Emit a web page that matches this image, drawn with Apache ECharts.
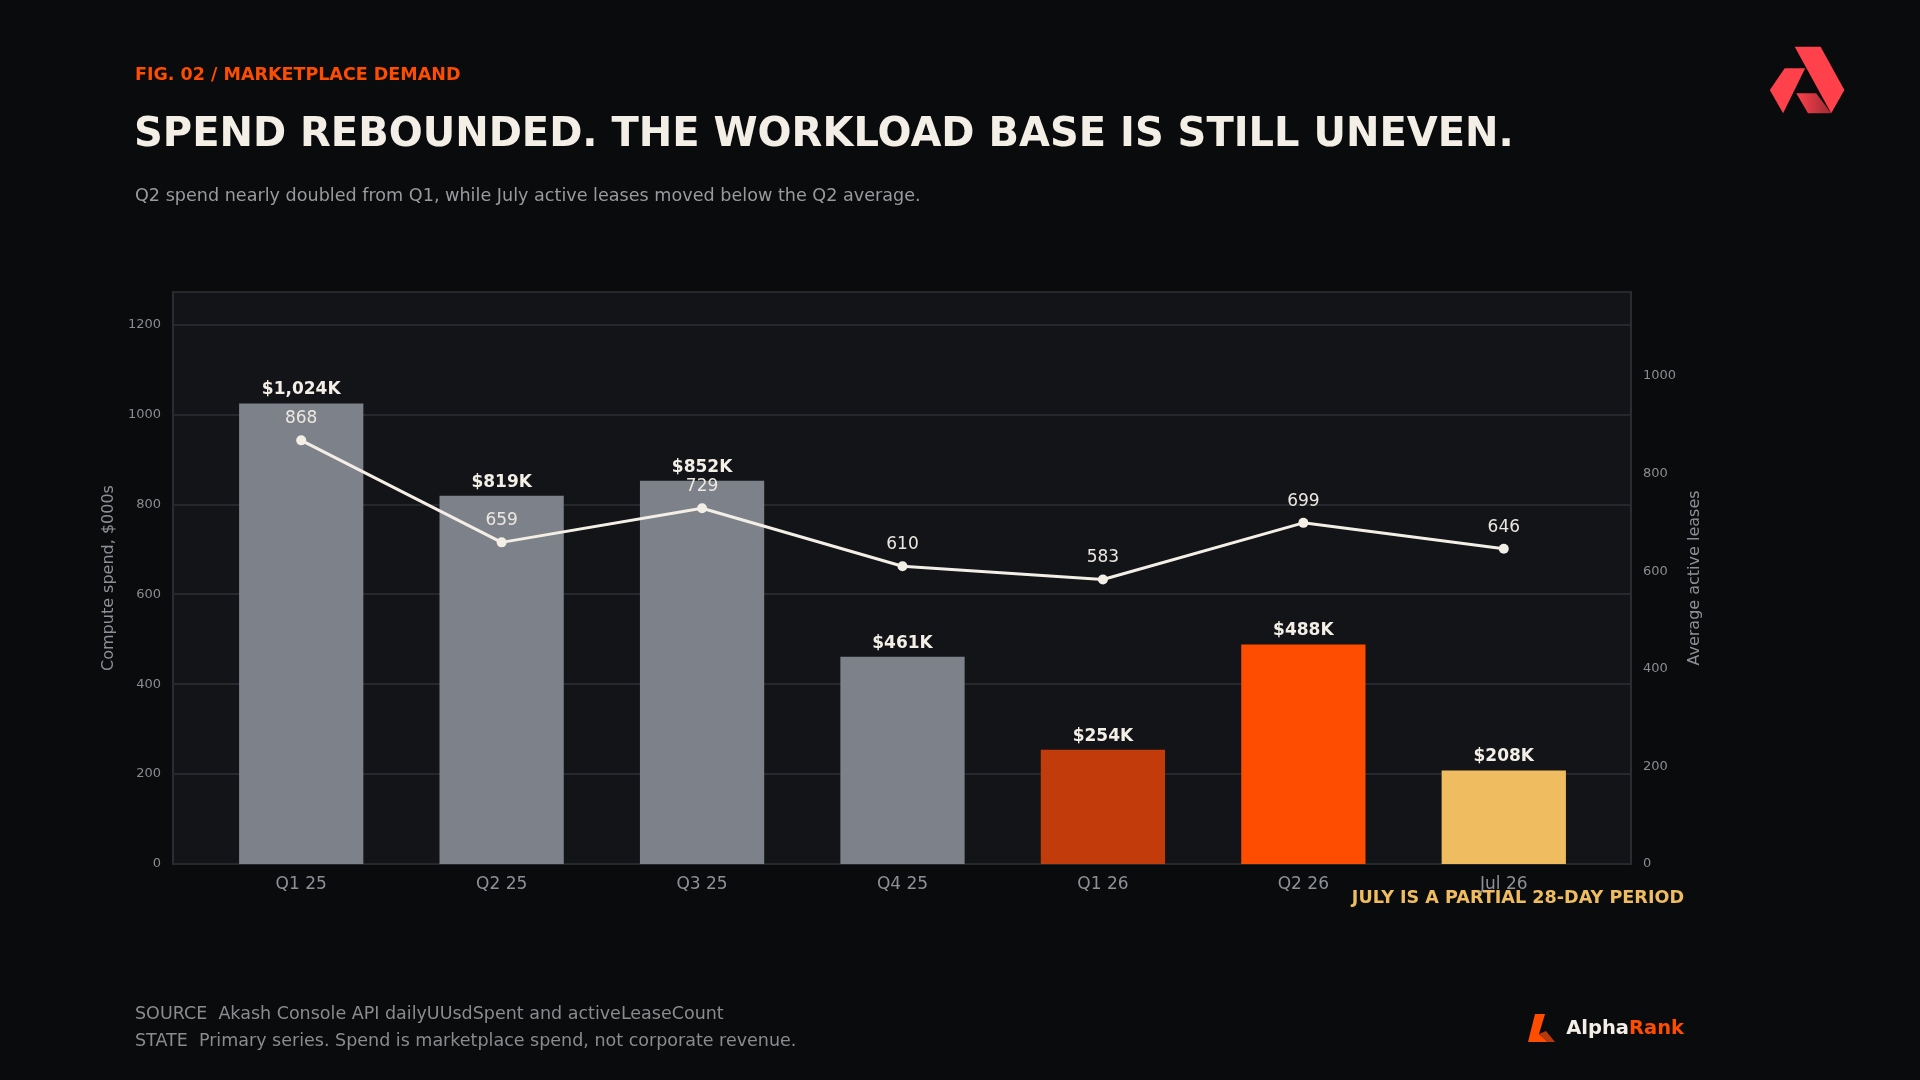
<!DOCTYPE html>
<html>
<head>
<meta charset="utf-8">
<script src="https://cdn.jsdelivr.net/npm/echarts@6/dist/echarts.min.js"></script>
<style>
  html, body {margin: 0; padding: 0; background: #0a0b0d;}
  #chart {width: 1920px; height: 1080px;}
</style>
</head>
<body>
<div id="chart"></div>
<script>
const periods = ["Q1 25", "Q2 25", "Q3 25", "Q4 25", "Q1 26", "Q2 26", "Jul 26"];
const spendK = [1024, 819, 852, 461, 254, 488, 208];
const activeLeases = [868, 659, 729, 610, 583, 699, 646];
const barColors = ["#7d8189", "#7d8189", "#7d8189", "#7d8189", "#c23b0a", "#ff4d00", "#efbd5f"];
const spendTicks = [0, 200, 400, 600, 800, 1000, 1200];
const leaseTicks = [0, 200, 400, 600, 800, 1000];

const FONT = "DejaVu Sans";
const MUTED = "#8d9096";
const SPEND_MAX = 1272;
const LEASE_MAX = 1172;

const chart = echarts.init(document.getElementById("chart"));

// grid 0 is the framed plot area, grid 1 holds the bars inset from the frame
const option = {
  animation: false,
  backgroundColor: "#0a0b0d",
  textStyle: {fontFamily: FONT},
  grid: [
    {
      left: 173, right: 289, top: 292, bottom: 216,
      show: true, backgroundColor: "#131418", borderColor: "#2a2c31", borderWidth: 2
    },
    {left: 201, right: 316, top: 292, bottom: 216}
  ],
  xAxis: [
    {
      type: "category", gridIndex: 0, data: periods, show: false
    },
    {
      type: "category",
      gridIndex: 1,
      data: periods,
      axisLine: {show: false},
      axisTick: {show: false},
      axisLabel: {color: MUTED, fontSize: 17, margin: 12, fontFamily: FONT}
    }
  ],
  yAxis: [
    {
      type: "value",
      gridIndex: 0,
      min: 0,
      max: SPEND_MAX,
      interval: 200,
      name: "Compute spend, $000s",
      nameLocation: "middle",
      nameGap: 53,
      nameTextStyle: {color: MUTED, fontSize: 16, fontFamily: FONT},
      axisLine: {show: false},
      axisTick: {show: false},
      splitLine: {lineStyle: {color: "#26282d", width: 2}},
      axisLabel: {
        color: "#8a8c91", fontSize: 13, margin: 12, fontFamily: FONT,
        formatter: v => spendTicks.includes(v) ? String(v) : ""
      }
    },
    {
      type: "value",
      gridIndex: 0,
      position: "right",
      min: 0,
      max: LEASE_MAX,
      interval: 200,
      name: "Average active leases",
      nameLocation: "middle",
      nameGap: 52,
      nameTextStyle: {color: MUTED, fontSize: 16, fontFamily: FONT},
      axisLine: {show: false},
      axisTick: {show: false},
      splitLine: {show: false},
      axisLabel: {
        color: "#8a8c91", fontSize: 13, margin: 12, fontFamily: FONT,
        formatter: v => leaseTicks.includes(v) ? String(v) : ""
      }
    },
    {type: "value", gridIndex: 1, min: 0, max: SPEND_MAX, show: false, splitLine: {show: false}},
    {type: "value", gridIndex: 1, min: 0, max: LEASE_MAX, show: false, splitLine: {show: false}}
  ],
  series: [
    {
      type: "bar",
      xAxisIndex: 1,
      yAxisIndex: 2,
      barWidth: "62%",
      data: spendK.map((v, i) => ({value: v, itemStyle: {color: barColors[i]}})),
      label: {
        show: true,
        position: "top",
        distance: 5,
        color: "#f3efe6",
        fontSize: 17,
        fontWeight: "bold",
        fontFamily: FONT,
        formatter: p => "$" + p.value.toLocaleString("en-US") + "K"
      },
      z: 2
    },
    {
      type: "line",
      xAxisIndex: 1,
      yAxisIndex: 3,
      data: activeLeases,
      symbol: "circle",
      symbolSize: 10,
      lineStyle: {color: "#f3efe6", width: 3},
      itemStyle: {color: "#f3efe6"},
      label: {
        show: true,
        position: "top",
        distance: 8,
        color: "#ece8e0",
        fontSize: 17,
        fontFamily: FONT
      },
      z: 5
    }
  ],
  graphic: [
    {
      type: "text", left: 135, top: 66,
      style: {text: "FIG. 02 / MARKETPLACE DEMAND", fill: "#ff4d00", font: "bold 17.5px 'DejaVu Sans'"}
    },
    {
      type: "text", left: 134, top: 116,
      style: {text: "SPEND REBOUNDED. THE WORKLOAD BASE IS STILL UNEVEN.", fill: "#f3efe6", font: "bold 40px 'DejaVu Sans'"}
    },
    {
      type: "text", left: 135, top: 187,
      style: {text: "Q2 spend nearly doubled from Q1, while July active leases moved below the Q2 average.", fill: "#9a9a9e", font: "17.6px 'DejaVu Sans'"}
    },
    {
      type: "text", right: 236, top: 889,
      style: {text: "JULY IS A PARTIAL 28-DAY PERIOD", fill: "#efbd5f", font: "bold 17.6px 'DejaVu Sans'"}
    },
    {
      type: "text", left: 135, top: 1005,
      style: {text: "SOURCE  Akash Console API dailyUUsdSpent and activeLeaseCount", fill: "#8b8b8f", font: "17.5px 'DejaVu Sans'"}
    },
    {
      type: "text", left: 135, top: 1032,
      style: {text: "STATE  Primary series. Spend is marketplace spend, not corporate revenue.", fill: "#8b8b8f", font: "17.5px 'DejaVu Sans'"}
    },
    // AlphaRank wordmark
    {
      type: "text", right: 236, top: 1019,
      style: {
        text: "{a|Alpha}{r|Rank}",
        rich: {
          a: {fill: "#f3efe6", font: "bold 19.5px 'DejaVu Sans'"},
          r: {fill: "#ff4d00", font: "bold 19.5px 'DejaVu Sans'"}
        }
      }
    },
    {
      type: "polygon",
      shape: {points: [[1535, 1014], [1545, 1014], [1539, 1034], [1548, 1042], [1528, 1042]]},
      style: {fill: "#ff4d00"}
    },
    {
      type: "polygon",
      shape: {points: [[1539, 1034], [1546, 1031], [1555, 1042], [1548, 1042]]},
      style: {fill: "#b83a0c"}
    },
    // Akash logo
    {
      type: "polygon",
      shape: {points: [[1794.7, 46.7], [1820.6, 46.7], [1844.4, 90], [1831.2, 113.3]]},
      style: {fill: "#ff414c"}
    },
    {
      type: "polygon",
      shape: {points: [[1784.7, 68.3], [1805.2, 68.3], [1783.1, 113.3], [1769.8, 90]]},
      style: {fill: "#ff414c"}
    },
    {
      type: "polygon",
      shape: {points: [[1796.3, 93.3], [1816.2, 93.3], [1831.2, 113.3], [1808, 113.3]]},
      style: {
        fill: new echarts.graphic.LinearGradient(0, 0, 1, 0, [
          {offset: 0, color: "#ff414c"},
          {offset: 1, color: "#9e2a33"}
        ])
      }
    }
  ]
};

chart.setOption(option);
</script>
</body>
</html>
